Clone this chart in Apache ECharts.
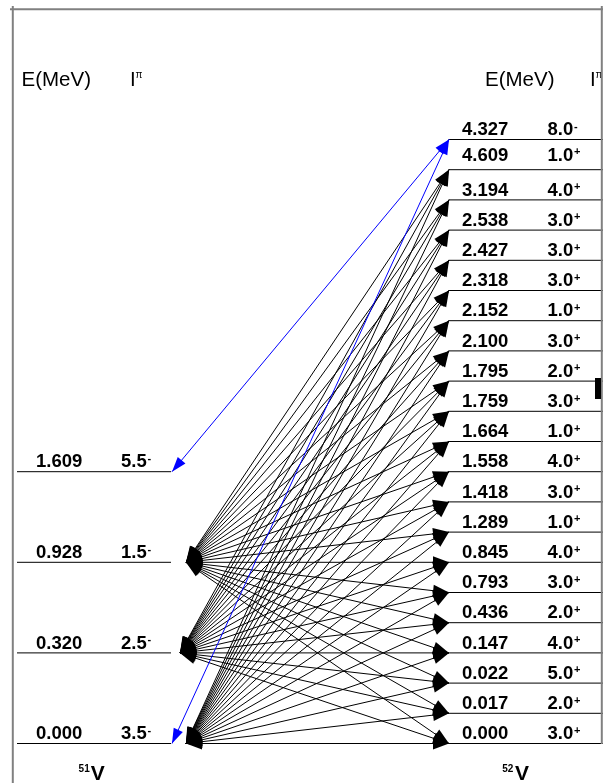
<!DOCTYPE html>
<html><head><meta charset="utf-8">
<style>html,body{margin:0;padding:0;background:#fff}#c{width:603px;height:783px}</style>
<script src="https://cdn.jsdelivr.net/npm/echarts@6/dist/echarts.min.js"></script>
</head><body><div id="c"></div><script>
// ---------------- data ----------------
const rightEnergies = ['4.327','4.609','3.194','2.538','2.427','2.318','2.152','2.100','1.795','1.759','1.664','1.558','1.418','1.289','0.845','0.793','0.436','0.147','0.022','0.017','0.000'];
const rightSpins = ['8.0','1.0','4.0','3.0','3.0','3.0','1.0','3.0','2.0','3.0','1.0','4.0','3.0','1.0','4.0','3.0','2.0','4.0','5.0','2.0','3.0'];
const rightParities = ['-','+','+','+','+','+','+','+','+','+','+','+','+','+','+','+','+','+','+','+','+'];
const leftEnergies = ['1.609','0.928','0.320','0.000'];
const leftSpins = ['5.5','1.5','2.5','3.5'];
const leftParities = ['-','-','-','-'];
const blackSources = [1,2,3];                       // left (51V) level indices
const blackTargets = [1,2,3,4,5,6,7,8,9,10,11,12,13,14,15,16,17,18,19,20]; // right (52V) level indices
const blueLinks = [[0,0],[0,3]];                    // [right level, left level]
const headerText = ['E(MeV)','I','π'];
const nucleusLeft = ['51','V'];
const nucleusRight = ['52','V'];

// ---------------- layout ----------------
const FONT = '"Liberation Sans", Arial, sans-serif';
const SLOTS = rightEnergies.length - 1;
const LEFT_STEP = 3;
const rightSlot = i => SLOTS - i;
const leftSlot = j => (leftEnergies.length - 1 - j) * LEFT_STEP;
const SIDE = [
  {x1: 17, x2: 171, ex: 36, sx: 121, supx: 147.5},
  {x1: 448.5, x2: 603, ex: 462, sx: 547.5, supx: 574}
];
const SRC_X = [0, 186, 180, 186];
const TGT_X = 449;
const BLUE_LEFT_X = 172;
const RAISE = {1: 4.5};

const levelData = [];
leftEnergies.forEach((e, j) => levelData.push([0, j, leftSlot(j)]));
rightEnergies.forEach((e, i) => levelData.push([1, i, rightSlot(i)]));

const transData = [];
blackSources.forEach(j => blackTargets.forEach(i => transData.push([SRC_X[j], leftSlot(j), TGT_X, rightSlot(i), 0])));
blueLinks.forEach(([i, j]) => transData.push([BLUE_LEFT_X, leftSlot(j), TGT_X, rightSlot(i), 1]));

function txt(text, x, y, font, opts) {
  return Object.assign({type: 'text', style: {text: text, x: x, y: y, font: font, fill: '#000',
    align: 'left', textAlign: 'left', verticalAlign: 'middle', textVerticalAlign: 'middle'}}, opts || {});
}

function renderLevel(params, api) {
  const side = api.value(0), idx = api.value(1), slot = api.value(2);
  const L = SIDE[side];
  const p1 = api.coord([L.x1, slot]), p2 = api.coord([L.x2, slot]);
  const y = p1[1];
  const energy = side === 0 ? leftEnergies[idx] : rightEnergies[idx];
  const spin = side === 0 ? leftSpins[idx] : rightSpins[idx];
  const par = side === 0 ? leftParities[idx] : rightParities[idx];
  const base = y - 3 - (side === 1 && RAISE[idx] ? RAISE[idx] : 0);
  return {type: 'group', children: [
    {type: 'line', shape: {x1: p1[0], y1: y, x2: p2[0], y2: y}, style: {stroke: '#000', lineWidth: 1}},
    txt(energy, api.coord([L.ex, slot])[0], base - 6.4, 'bold 18.5px ' + FONT),
    txt(spin, api.coord([L.sx, slot])[0], base - 6.4, 'bold 18.5px ' + FONT),
    txt(par, api.coord([L.supx, slot])[0], base - 6 - 3.8, 'bold 11px ' + FONT)
  ]};
}

function arrowHead(tip, from, len, wid, color) {
  const dx = tip[0] - from[0], dy = tip[1] - from[1];
  const d = Math.sqrt(dx * dx + dy * dy) || 1;
  const ux = dx / d, uy = dy / d, nx = -uy, ny = ux;
  const bx = tip[0] - ux * len, by = tip[1] - uy * len;
  return {type: 'polygon', shape: {points: [[tip[0], tip[1]], [bx + nx * wid / 2, by + ny * wid / 2], [bx - nx * wid / 2, by - ny * wid / 2]]},
    style: {fill: color}};
}

function renderTrans(params, api) {
  const a = api.coord([api.value(0), api.value(1)]);
  const b = api.coord([api.value(2), api.value(3)]);
  const blue = api.value(4) === 1;
  const color = blue ? '#0000ff' : '#000';
  const len = blue ? 15 : 16, wid = blue ? 10 : 12;
  return {type: 'group', children: [
    {type: 'line', shape: {x1: a[0], y1: a[1], x2: b[0], y2: b[1]}, style: {stroke: color, lineWidth: 1}},
    arrowHead(a, b, len, wid, color),
    arrowHead(b, a, len, wid, color)
  ]};
}

const chart = echarts.init(document.getElementById('c'), null, {renderer: 'canvas'});
const graphics = [
  {type: 'line', shape: {x1: 12.8, y1: 6, x2: 12.8, y2: 783}, style: {stroke: '#808080', lineWidth: 2}, z: 10},
  {type: 'line', shape: {x1: 10, y1: 9.2, x2: 603, y2: 9.2}, style: {stroke: '#808080', lineWidth: 2}, z: 10},
  {type: 'line', shape: {x1: 601.8, y1: 6, x2: 601.8, y2: 744}, style: {stroke: '#808080', lineWidth: 2}, z: 10},
  {type: 'rect', shape: {x: 595, y: 378, width: 6, height: 21}, style: {fill: '#000'}, z: 11},
  txt(headerText[0], 21.5, 80, '20.5px ' + FONT),
  txt(headerText[1], 130, 80, '20.5px ' + FONT),
  txt(headerText[2], 135.5, 75, '10px ' + FONT),
  txt(headerText[0], 485, 80, '20.5px ' + FONT),
  txt(headerText[1], 590, 80, '20.5px ' + FONT),
  txt(headerText[2], 595.5, 75, '10px ' + FONT),
  txt(nucleusLeft[0], 78.6, 769.2, 'bold 10px ' + FONT),
  txt(nucleusLeft[1], 90.7, 774.4, 'bold 21px ' + FONT),
  txt(nucleusRight[0], 502.3, 769.2, 'bold 10px ' + FONT),
  txt(nucleusRight[1], 515, 774.4, 'bold 21px ' + FONT)
];
chart.setOption({
  animation: false,
  backgroundColor: '#fff',
  grid: {left: 0, right: 0, top: 139.5, bottom: 39.5},
  xAxis: {type: 'value', min: 0, max: 603, show: false},
  yAxis: {type: 'value', min: 0, max: SLOTS, show: false},
  graphic: graphics,
  series: [
    {type: 'custom', name: 'levels', data: levelData, renderItem: renderLevel, clip: false, silent: true, z: 2},
    {type: 'custom', name: 'transitions', data: transData, renderItem: renderTrans, clip: false, silent: true, z: 3}
  ]
});
</script></body></html>
